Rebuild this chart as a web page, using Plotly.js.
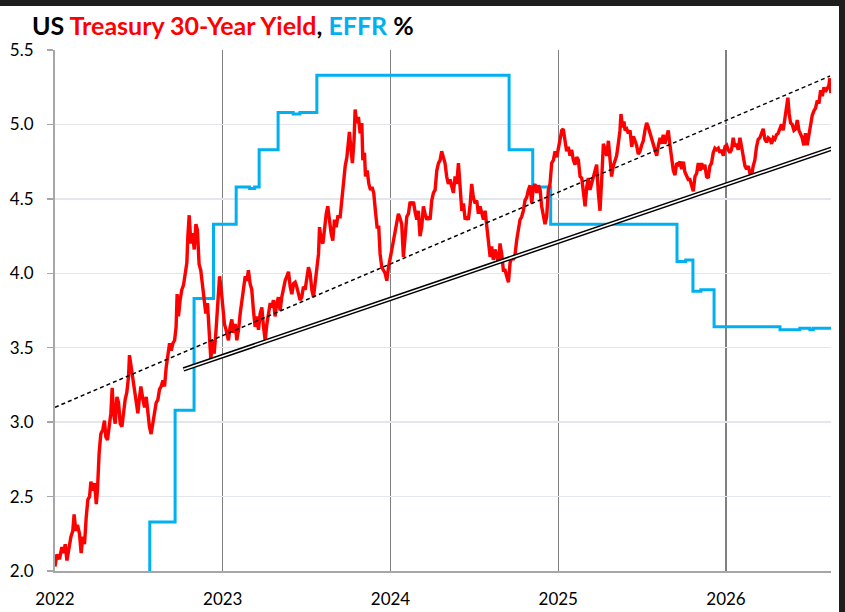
<!DOCTYPE html>
<html><head><meta charset="utf-8">
<script src="https://cdn.plot.ly/plotly-3.0.1.min.js"></script>
<style>
html,body{margin:0;padding:0;background:#1e1e1e;width:845px;height:612px;overflow:hidden;}
#chart{position:absolute;left:0;top:6px;width:839px;height:606px;background:#fff;}
</style></head><body><div id="chart"></div>
<script>
// x values are decimal years
const yearTicks = [2022, 2023, 2024, 2025, 2026];
const yearTickLabels = ['2022', '2023', '2024', '2025', '2026'];

const yield30T = [
2022.000,2022.011,2022.027,2022.041,2022.051,2022.061,2022.071,2022.081,2022.095,2022.106,2022.114,2022.124,2022.134,2022.146,2022.156,2022.166,2022.176,2022.186,2022.196,2022.206,2022.214,2022.226,2022.236,2022.246,2022.253,2022.263,2022.273,2022.285,2022.295,2022.303,2022.313,2022.323,2022.333,2022.341,2022.349,2022.359,2022.369,2022.379,2022.389,2022.399,2022.408,2022.418,2022.428,2022.438,2022.444,2022.454,2022.464,2022.474,2022.484,2022.494,2022.502,2022.512,2022.524,2022.534,2022.544,2022.554,2022.563,2022.573,2022.583,2022.593,2022.603,2022.613,2022.623,2022.633,2022.643,2022.653,2022.663,2022.673,2022.683,2022.693,2022.703,2022.713,2022.722,2022.728,2022.736,2022.746,2022.756,2022.766,2022.776,2022.786,2022.792,2022.800,2022.810,2022.820,2022.830,2022.840,2022.849,2022.859,2022.869,2022.879,2022.889,2022.899,2022.909,2022.919,2022.929,2022.939,2022.949,2022.959,2022.969,2022.981,2022.991,2023.000,2023.010,2023.020,2023.030,
2023.034,2023.044,2023.054,2023.064,2023.074,2023.084,2023.094,2023.104,2023.114,2023.124,2023.134,2023.144,2023.153,2023.163,2023.173,2023.183,2023.193,2023.203,2023.213,2023.223,2023.233,2023.243,2023.253,2023.263,2023.273,2023.283,2023.293,2023.302,2023.312,2023.322,2023.332,2023.342,2023.352,2023.362,2023.372,2023.382,2023.392,2023.402,2023.412,2023.422,2023.432,2023.441,2023.451,2023.461,2023.471,2023.481,2023.491,2023.501,2023.511,2023.521,2023.531,2023.541,2023.551,2023.561,2023.571,2023.577,2023.587,2023.597,2023.607,2023.617,2023.626,2023.636,2023.646,2023.656,2023.666,2023.676,2023.686,2023.700,2023.710,2023.720,2023.730,2023.740,2023.749,2023.755,2023.763,2023.773,2023.783,2023.789,2023.799,2023.809,2023.819,2023.829,2023.835,2023.845,2023.851,2023.861,2023.871,2023.881,2023.890,2023.900,2023.910,2023.920,2023.930,2023.938,2023.948,2023.958,2023.968,2023.978,2023.988,
2024.008,2024.017,2024.027,2024.037,2024.047,2024.057,2024.067,2024.077,2024.087,2024.097,2024.107,2024.117,2024.127,2024.137,2024.147,2024.157,2024.166,2024.176,2024.186,2024.196,2024.206,2024.216,2024.226,2024.236,2024.246,2024.256,2024.266,2024.276,2024.286,2024.296,2024.305,2024.315,2024.325,2024.335,2024.345,2024.355,2024.365,2024.375,2024.385,2024.395,2024.405,2024.415,2024.425,2024.435,2024.445,2024.455,2024.464,2024.474,2024.484,2024.494,2024.504,2024.514,2024.524,2024.534,2024.544,2024.554,2024.564,2024.574,2024.584,2024.594,2024.603,2024.613,2024.623,2024.633,2024.643,2024.653,2024.663,2024.673,2024.683,2024.693,2024.703,2024.713,2024.723,2024.733,2024.743,2024.752,2024.762,2024.772,2024.782,2024.792,2024.802,2024.812,2024.822,2024.832,2024.842,2024.852,2024.862,2024.872,2024.882,2024.892,2024.901,2024.911,2024.921,2024.931,2024.941,2024.951,2024.961,2024.971,
2024.981,2024.991,2025.001,2025.011,2025.021,2025.030,2025.040,2025.050,2025.060,2025.070,2025.080,2025.090,2025.100,2025.110,2025.120,2025.130,2025.140,2025.150,2025.160,2025.170,2025.179,2025.189,2025.199,2025.209,2025.219,2025.229,2025.239,2025.249,2025.259,2025.269,2025.279,2025.289,2025.299,2025.309,2025.318,2025.328,2025.338,2025.348,2025.358,2025.368,2025.374,2025.384,2025.392,2025.398,2025.408,2025.418,2025.428,2025.438,2025.448,2025.457,2025.467,2025.477,2025.487,2025.497,2025.507,2025.517,2025.527,2025.537,2025.547,2025.557,2025.567,2025.577,2025.587,2025.597,2025.607,2025.616,2025.626,2025.636,2025.646,2025.656,2025.666,2025.676,2025.686,2025.696,2025.706,2025.716,2025.726,2025.736,2025.746,2025.755,2025.765,2025.775,
2025.785,2025.795,2025.805,2025.815,2025.825,2025.835,2025.845,2025.855,2025.864,2025.874,2025.884,2025.894,2025.904,2025.914,2025.924,2025.934,2025.944,2025.954,2025.964,2025.974,2025.984,2025.994,2026.004,2026.013,2026.023,2026.033,2026.043,2026.053,2026.063,2026.073,2026.083,2026.093,2026.103,2026.113,2026.123,2026.133,2026.143,2026.152,2026.162,2026.172,2026.182,2026.192,2026.202,2026.212,2026.222,2026.232,2026.242,2026.252,2026.262,2026.272,2026.282,2026.291,2026.301,2026.311,2026.321,2026.331,2026.341,2026.351,2026.361,2026.369,2026.377,2026.385,2026.395,2026.405,2026.415,2026.425,2026.435,2026.444,2026.454,2026.464,2026.474,2026.484,2026.494,2026.504,2026.514,2026.524,2026.534,2026.544,2026.554,2026.564,2026.574,2026.584,2026.593,2026.603,2026.613,2026.619,2026.622,2026.625
];
const yield30V = [
2.03,2.11,2.08,2.16,2.12,2.18,2.07,2.14,2.23,2.27,2.38,2.27,2.31,2.25,2.12,2.23,2.18,2.36,2.48,2.50,2.60,2.54,2.59,2.45,2.54,2.79,2.92,2.95,3.01,2.90,2.88,2.97,3.06,3.23,3.06,2.99,3.17,3.13,2.99,2.97,3.06,3.15,3.20,3.30,3.45,3.37,3.30,3.24,3.17,3.06,3.15,3.24,3.15,3.10,3.17,3.04,2.97,2.92,3.01,3.06,3.13,3.15,3.22,3.24,3.28,3.24,3.37,3.46,3.53,3.48,3.53,3.55,3.64,3.86,3.71,3.82,3.89,3.92,3.98,4.07,4.25,4.39,4.20,4.27,4.16,4.33,4.29,4.06,4.02,3.91,3.82,3.73,3.80,3.60,3.42,3.55,3.46,3.60,3.78,3.98,3.89,3.75,3.66,3.62,3.55,
3.55,3.64,3.69,3.60,3.66,3.55,3.62,3.73,3.82,3.89,3.98,3.95,4.02,3.93,3.89,3.75,3.64,3.71,3.62,3.73,3.77,3.64,3.55,3.66,3.73,3.80,3.77,3.82,3.71,3.80,3.84,3.75,3.84,3.91,3.95,3.98,4.01,3.91,3.86,3.93,3.94,3.91,3.86,3.82,3.84,3.91,3.89,3.95,4.04,4.00,3.89,3.84,3.93,4.02,4.13,4.31,4.22,4.20,4.31,4.40,4.45,4.33,4.27,4.22,4.36,4.31,4.38,4.38,4.49,4.63,4.72,4.78,4.92,4.95,4.85,4.74,4.90,5.10,5.01,5.05,4.94,5.01,4.76,4.81,4.65,4.69,4.60,4.56,4.58,4.54,4.42,4.31,4.31,4.13,4.04,4.02,4.00,3.95,4.04,
4.16,4.22,4.27,4.36,4.40,4.37,4.33,4.11,4.29,4.38,4.40,4.48,4.46,4.48,4.41,4.36,4.42,4.25,4.31,4.45,4.40,4.36,4.38,4.36,4.49,4.54,4.56,4.69,4.74,4.76,4.82,4.78,4.74,4.65,4.60,4.63,4.59,4.54,4.65,4.60,4.74,4.54,4.42,4.47,4.36,4.38,4.36,4.45,4.60,4.51,4.47,4.49,4.40,4.45,4.41,4.36,4.42,4.33,4.20,4.11,4.18,4.09,4.16,4.11,4.07,4.20,4.13,4.02,4.02,3.98,3.94,4.07,4.11,4.09,4.13,4.22,4.29,4.36,4.38,4.42,4.49,4.51,4.56,4.59,4.47,4.58,4.60,4.54,4.59,4.56,4.45,4.38,4.33,4.38,4.56,4.60,4.74,4.76,
4.82,4.78,4.85,4.91,4.96,4.97,4.87,4.82,4.85,4.79,4.83,4.76,4.73,4.78,4.76,4.65,4.64,4.56,4.45,4.58,4.64,4.56,4.60,4.63,4.67,4.73,4.54,4.42,4.63,4.87,4.83,4.79,4.89,4.76,4.65,4.72,4.76,4.79,4.87,4.96,5.07,4.98,5.02,4.96,4.97,4.94,4.96,4.85,4.92,4.89,4.86,4.80,4.82,4.86,4.89,4.96,5.01,4.98,4.94,4.89,4.86,4.82,4.79,4.86,4.91,4.87,4.93,4.87,4.91,4.96,4.86,4.78,4.69,4.66,4.74,4.73,4.75,4.70,4.75,4.68,4.66,4.63,
4.63,4.58,4.55,4.65,4.67,4.74,4.69,4.74,4.70,4.73,4.65,4.64,4.72,4.74,4.81,4.84,4.83,4.84,4.81,4.83,4.79,4.85,4.86,4.83,4.81,4.83,4.91,4.85,4.87,4.83,4.91,4.85,4.78,4.72,4.70,4.72,4.67,4.65,4.72,4.76,4.85,4.90,4.91,4.94,4.97,4.90,4.88,4.91,4.90,4.87,4.91,4.90,4.93,4.94,4.98,5.00,4.96,5.04,5.11,5.18,5.07,5.01,5.00,4.96,4.97,5.03,4.96,4.94,4.91,4.86,4.94,4.86,4.94,5.01,5.06,5.09,5.11,5.16,5.14,5.23,5.19,5.25,5.22,5.24,5.26,5.31,5.28,5.21
];

// Effective Fed Funds Rate, step changes
const effrT = [2022.40,2022.565,2022.716,2022.829,2022.945,2023.080,2023.16,2023.19,2023.217,2023.330,2023.42,2023.46,2023.561,2024.707,2024.848,2024.955,2025.708,2025.76,2025.803,2025.85,2025.929,2026.322,2026.44,2026.50,2026.52,2026.70];
const effrV = [1.58,2.33,3.08,3.83,4.33,4.58,4.57,4.58,4.83,5.08,5.07,5.08,5.33,4.83,4.58,4.33,4.08,4.09,3.88,3.89,3.64,3.62,3.63,3.62,3.63,3.63];

// Hand-drawn trend lines
const dashedTrendT = [2022.0, 2026.62];
const dashedTrendV = [3.10, 5.325];
const channelT = [2022.766, 2026.70];
const channelV = [3.354, 4.864];

const tickFont = {family: 'Lato, "Open Sans", sans-serif', size: 17, color: '#000'};

const traces = [
  {x: effrT, y: effrV, type: 'scatter', mode: 'lines', line: {color: '#00b0f0', width: 3, shape: 'hv'}, hoverinfo: 'skip'},
  {x: yield30T, y: yield30V, type: 'scatter', mode: 'lines', line: {color: '#ff0000', width: 3.4}, hoverinfo: 'skip'},
  {x: dashedTrendT, y: dashedTrendV, type: 'scatter', mode: 'lines', line: {color: '#000', width: 1.5, dash: '4px,3px'}, hoverinfo: 'skip'},
  {x: channelT, y: channelV, type: 'scatter', mode: 'lines', line: {color: '#000', width: 4.5}, hoverinfo: 'skip'},
  {x: channelT, y: channelV, type: 'scatter', mode: 'lines', line: {color: '#fff', width: 1.6}, hoverinfo: 'skip'}
];

const layout = {
  width: 839, height: 606,
  margin: {l: 55, r: 8, t: 44, b: 41, pad: 0},
  paper_bgcolor: '#fff', plot_bgcolor: '#fff',
  showlegend: false,
  title: {
    text: '<b>US <span style="color:#ff0000">Treasury 30-Year Yield</span>, <span style="color:#00b0f0">EFFR</span> %</b>',
    font: {family: 'Lato, "Open Sans", sans-serif', size: 25, color: '#000'},
    x: 32 / 839, xref: 'container', xanchor: 'left',
    y: 1 - 20 / 606, yref: 'container', yanchor: 'middle'
  },
  xaxis: {
    type: 'linear', range: [2022, 2026.626],
    tickmode: 'array', tickvals: yearTicks, ticktext: yearTickLabels,
    showgrid: true, gridcolor: '#808080', gridwidth: 1.3,
    showline: true, linecolor: '#a6a6a6', linewidth: 2,
    ticks: '', zeroline: false, tickfont: tickFont, ticklabelstandoff: 12,
    fixedrange: true
  },
  yaxis: {
    range: [2, 5.5], tick0: 2, dtick: 0.5, tickformat: '.1f',
    ticks: 'outside', ticklen: 6, tickwidth: 1.5, tickcolor: '#a6a6a6',
    showline: true, linecolor: '#a6a6a6', linewidth: 2,
    showgrid: true, gridcolor: '#e3e7ed', gridwidth: 1.5,
    zeroline: false, tickfont: tickFont, ticklabelstandoff: 10,
    fixedrange: true
  }
};

Plotly.newPlot('chart', traces, layout, {displayModeBar: false, staticPlot: true});
</script></body></html>
